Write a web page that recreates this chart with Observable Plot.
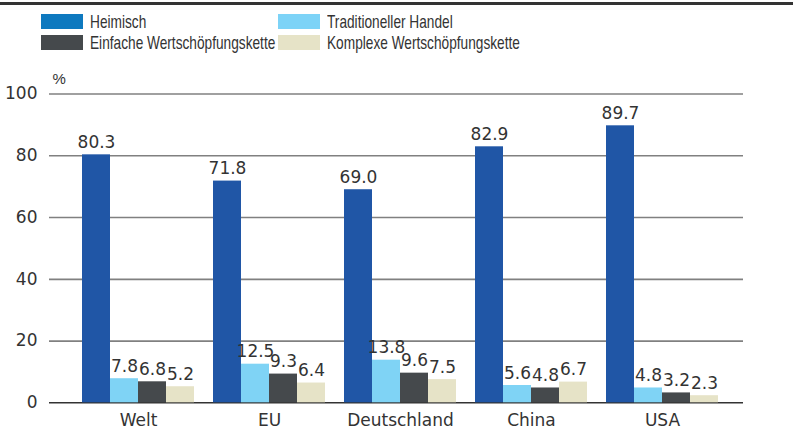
<!DOCTYPE html>
<html>
<head>
<meta charset="utf-8">
<script src="https://cdn.jsdelivr.net/npm/d3@7"></script>
<script src="https://cdn.jsdelivr.net/npm/@observablehq/plot@0.6"></script>
<style>
  html, body { margin: 0; padding: 0; background: #fff; }
  #wrap { position: relative; width: 793px; height: 430px; overflow: hidden; }
  #topline { position: absolute; left: 0; top: 2px; width: 793px; height: 3px; background: #333; }
  #legend { position: absolute; left: 41px; top: 14px; display: grid; grid-template-columns: 237px auto; row-gap: 6px;
    font-family: "Liberation Sans", Arial, sans-serif; font-size: 19px; color: #333; }
  .item { display: flex; align-items: center; height: 15px; white-space: nowrap; }
  .sw { width: 42px; height: 15px; margin-right: 7px; flex: none; }
  .tx { display: inline-block; transform: scaleX(0.72); transform-origin: 0 50%; }
  .layer { position: absolute; left: 0; top: 0; }
</style>
</head>
<body>
<div id="wrap">
  <div id="topline"></div>
  <div id="legend"></div>
</div>
<script>
const groups = ["Welt", "EU", "Deutschland", "China", "USA"];
const series = ["Heimisch", "Traditioneller Handel", "Einfache Wertschöpfungskette", "Komplexe Wertschöpfungskette"];
const heimisch = [80.3, 71.8, 69.0, 82.9, 89.7];
const traditionell = [7.8, 12.5, 13.8, 5.6, 4.8];
const einfach = [6.8, 9.3, 9.6, 4.8, 3.2];
const komplex = [5.2, 6.4, 7.5, 6.7, 2.3];
const yTicks = [0, 20, 40, 60, 80, 100];
const unitLabel = ["%"];
const barColors = ["#2056A6", "#7FD3F5", "#45494C", "#E6E3C7"];
const legendColors = ["#0E79BF", "#7DD3F7", "#45494C", "#E6E3C7"];

const seriesValues = [heimisch, traditionell, einfach, komplex];
const data = [];
groups.forEach((g, i) => series.forEach((s, j) => data.push({group: g, series: s, value: seriesValues[j][i]})));

const legend = document.getElementById("legend");
series.forEach((name, j) => {
  const it = document.createElement("div");
  it.className = "item";
  const sw = document.createElement("span");
  sw.className = "sw";
  sw.style.background = legendColors[j];
  const tx = document.createElement("span");
  tx.className = "tx";
  tx.textContent = name;
  it.appendChild(sw); it.appendChild(tx);
  legend.appendChild(it);
});

const common = {
  width: 793, height: 430,
  marginTop: 93.5, marginBottom: 27.7, marginLeft: 49, marginRight: 50,
  style: {fontFamily: "DejaVu Sans, sans-serif", fontSize: "17px", color: "#333", background: "transparent", overflow: "visible"}
};

// Layer A: grid and y axis
const plotA = Plot.plot({
  ...common,
  x: {axis: null, domain: [0, 1]},
  y: {domain: [0, 100], axis: null},
  marks: [
    Plot.ruleY(yTicks.filter(d => d > 0), {stroke: "#808080", strokeWidth: 1.7}),
    Plot.ruleY([0], {stroke: "#333", strokeWidth: 1.6}),
    Plot.axisY(yTicks, {tickSize: 0, tickPadding: 12, label: null, fill: "#333"}),
    Plot.text(unitLabel, {frameAnchor: "top-left", textAnchor: "start", lineAnchor: "bottom", dx: 3, dy: -10,
      fontFamily: "Liberation Sans, sans-serif", fontSize: 15, fill: "#333"})
  ]
});

// Layer B: grouped bars
const plotB = Plot.plot({
  ...common,
  fx: {domain: groups, paddingInner: 0.1423, paddingOuter: 0.205, align: 0.574, axis: "bottom", tickSize: 0, tickPadding: 11, label: null},
  x: {domain: series, padding: 0, axis: null},
  y: {domain: [0, 100], axis: null},
  color: {domain: series, range: barColors},
  marks: [
    Plot.barY(data, {fx: "group", x: "series", y: "value", fill: "series"}),
    Plot.text(data, {fx: "group", x: "series", y: "value", text: d => d.value.toFixed(1), lineAnchor: "bottom", dy: -7, fill: "#333", fontSize: 17})
  ]
});

plotA.classList.add("layer");
plotB.classList.add("layer");
const wrap = document.getElementById("wrap");
wrap.insertBefore(plotA, wrap.firstChild);
wrap.insertBefore(plotB, document.getElementById("topline"));
</script>
</body>
</html>
